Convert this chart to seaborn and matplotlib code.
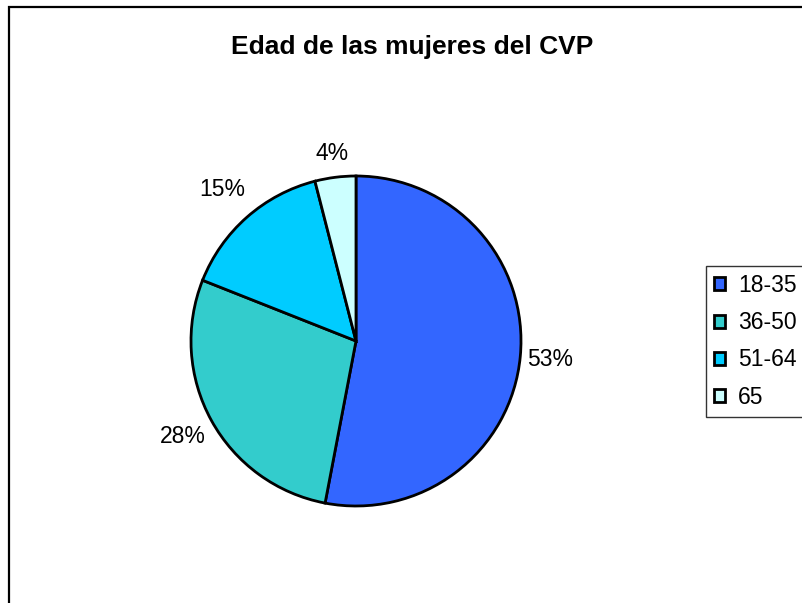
import matplotlib
matplotlib.use("Agg")
import numpy as np
import matplotlib.pyplot as plt
import seaborn as sns
from matplotlib.patches import Rectangle, Patch

sns.set_theme(style="white")
plt.rcParams['font.family'] = ['Liberation Sans', 'DejaVu Sans']
plt.rcParams['text.color'] = 'black'

title = "Edad de las mujeres del CVP"
categories = ["18-35", "36-50", "51-64", "65"]
values = [53, 28, 15, 4]
colors = ["#3366FF", "#33CCCC", "#00CCFF", "#CCFFFF"]

W, H = 802, 603
fig = plt.figure(figsize=(W / 100, H / 100), dpi=100)
fig.patch.set_facecolor("white")

# outer chart border
fig.add_artist(Rectangle((9 / W, -0.1), 1.2, 1 - 7 / H + 0.1, transform=fig.transFigure,
                         fill=False, edgecolor="black", linewidth=1.6))

cx, cy, r = 356, 341, 165
ax = fig.add_axes([(cx - r) / W, (H - cy - r) / H, 2 * r / W, 2 * r / H])
wedges, _ = ax.pie(values, colors=colors, startangle=90, counterclock=False,
                   wedgeprops=dict(edgecolor="black", linewidth=2))

# data labels placed just outside each wedge, centred on its mid-angle
label_radius = [1.18, 1.20, 1.225, 1.145]
for w, v, lr in zip(wedges, values, label_radius):
    ang = np.deg2rad((w.theta1 + w.theta2) / 2)
    ax.text(lr * np.cos(ang), lr * np.sin(ang), f"{v}%", ha="center", va="center",
            fontsize=16.5, color="black", clip_on=False)
ax.set_xlim(-1, 1)
ax.set_ylim(-1, 1)
ax.set_aspect("equal")
ax.axis("off")

fig.text(412 / W, 1 - 47 / H, title, ha="center", va="center", fontsize=19,
         fontweight="bold", color="black")

handles = [Patch(facecolor=c, edgecolor="black", linewidth=2) for c in colors]
leg = fig.legend(handles, categories, loc="upper left", bbox_to_anchor=(706 / W, 1 - 266 / H),
                 fontsize=16.5, frameon=True, fancybox=False, edgecolor="black",
                 handlelength=0.5, handleheight=0.5, handletextpad=0.55,
                 labelspacing=0.62, borderpad=0.35, borderaxespad=0)
leg.get_frame().set_linewidth(1.0)
for t in leg.get_texts():
    t.set_color("black")

fig.savefig("out.png", dpi=100, facecolor="white")
